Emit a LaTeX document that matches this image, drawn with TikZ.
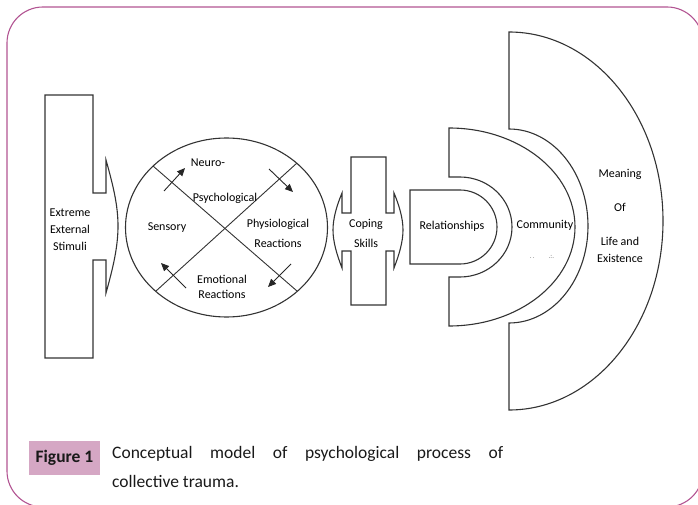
\documentclass[tikz,border=0pt]{standalone}
\usepackage{fontspec}
\setmainfont{Carlito}
\usetikzlibrary{arrows.meta}
\definecolor{framepink}{RGB}{178,84,146}
\definecolor{figbox}{RGB}{213,167,196}

\begin{document}
\begin{tikzpicture}[x=1pt,y=-1pt,
	outline/.style={draw=black!80, line width=1.1pt},
	flow/.style={draw=black!85, line width=0.9pt, -{Triangle[length=8pt,width=7pt]}},
	lbl/.style={font=\fontsize{12}{17}\selectfont, align=center, inner sep=0pt, text=black}]
	\useasboundingbox (0,0) rectangle (698,505);
	% Frame
	\draw [framepink, line width=1.1pt, rounded corners=36pt] (7,7) rectangle (703,507);

	% Stimuli block
	\draw [outline] (45,95) -- (93,95) -- (93,193) -- (106,193) -- (106,160)
		.. controls (113,185) and (118,205) .. (118,226)
		.. controls (118,247) and (113,268) .. (106,293)
		-- (106,260) -- (93,260) -- (93,358) -- (45,358) -- cycle;
	\node [lbl] (stim) at (70,230) {Extreme\\External\\Stimuli};

	% Reaction circle
	\draw [outline] (226.5,227.5) ellipse [x radius=101pt, y radius=89.5pt];
	\draw [outline, line width=0.9pt] (153,166) -- (297,291);
	\draw [outline, line width=0.9pt] (156,291) -- (297,163);
	\draw [flow] (164,191) -- (185,168);
	\draw [flow] (269,169) -- (293,192);
	\draw [flow] (291,264) -- (268,287);
	\draw [flow] (186,288) -- (161,263);
	\node [lbl] (neuro) at (208,163) {Neuro-};
	\node [lbl] (psych) at (225,198) {Psychological};
	\node [lbl] (sens) at (167,228) {Sensory};
	\node [lbl] (phys) at (278,233) {Physiological\\[3pt]Reactions};
	\node [lbl] (emo) at (222,287) {Emotional\\[-2pt]Reactions};

	% Coping skills
	\draw [outline] (351,157) -- (386,157) -- (386,213) -- (394,213) -- (394,193)
		.. controls (399,205) and (403,218) .. (403,230)
		.. controls (403,242) and (399,255) .. (394,268)
		-- (394,251) -- (386,251) -- (386,305) -- (351,305) -- (351,251) -- (342,251) -- (342,268)
		.. controls (337,255) and (333,242) .. (333,230)
		.. controls (333,218) and (337,205) .. (342,193)
		-- (342,213) -- (351,213) -- cycle;
	\node [lbl] (cope) at (366,233) {Coping\\[3pt]Skills};

	% Relationships
	\draw [outline] (410,190) -- (460,190) arc [start angle=90, end angle=-90, radius=37pt] -- (410,264) -- cycle;
	\node [lbl] (rel) at (452,226) {Relationships};

	% Community
	\draw [outline] (449,177) -- (449,128) arc [start angle=90, end angle=-90, x radius=126pt, y radius=99pt]
		-- (449,277) -- (460,277) arc [start angle=-90, end angle=90, x radius=52pt, y radius=50pt] -- cycle;
	\node [lbl] (comm) at (545,225) {Community};
	\node [font=\fontsize{7}{7}\selectfont, text=black!55, inner sep=0pt] (dots) at (542,257) {.\,.\hspace{14pt}.:.};

	% Meaning
	\draw [outline] (509,32) arc [start angle=90, end angle=-90, x radius=154pt, y radius=189pt]
		-- (509,323) arc [start angle=-90, end angle=90, x radius=79pt, y radius=97pt] -- cycle;
	\node [lbl] (mean) at (620,216) {Meaning\\[17pt]Of\\[17pt]Life and\\Existence};

	% Caption
	\node [fill=figbox, minimum width=71pt, minimum height=34pt, inner sep=0pt,
		font=\fontsize{17.5}{20}\selectfont\bfseries, text=black!90] (fig) at (64.5,458) {Figure 1};
	\node [anchor=north west, inner sep=0pt, text width=391pt, align=justify, text=black!90,
		font=\fontsize{17.5}{29}\selectfont] (cap) at (112,446)
		{\hyphenpenalty=10000\exhyphenpenalty=10000 Conceptual model of psychological process of\linebreak collective trauma.};
\end{tikzpicture}
\end{document}
